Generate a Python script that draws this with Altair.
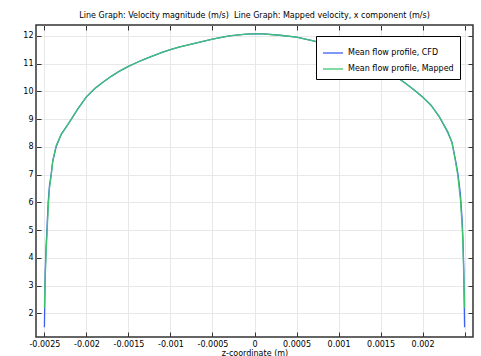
import altair as alt
import pandas as pd

# z-coordinate (m)
z = [-0.0025, -0.00249, -0.00248, -0.00247, -0.002455, -0.00244, -0.00242, -0.0024,
     -0.00236, -0.0023, -0.0022, -0.0021, -0.002, -0.0019, -0.0018, -0.0017, -0.0016,
     -0.0015, -0.0014, -0.0013, -0.0012, -0.0011, -0.001, -0.0009, -0.0007, -0.0005,
     -0.0003, -0.0001, 0.0, 0.0001, 0.0003, 0.0005, 0.0007, 0.0009, 0.001, 0.0011,
     0.0012, 0.0013, 0.0014, 0.0015, 0.0016, 0.0017, 0.0018, 0.0019, 0.002, 0.0021,
     0.0022, 0.0023, 0.00235, 0.00239, 0.00242, 0.00245, 0.00247, 0.00248, 0.00249, 0.0025]

# Mean flow profile, CFD (m/s)
cfd = [1.5, 3.5, 4.4, 5.0, 6.0, 6.6, 7.0, 7.5, 8.0, 8.45, 8.9, 9.38, 9.8, 10.1, 10.34,
       10.55, 10.74, 10.9, 11.04, 11.17, 11.29, 11.4, 11.5, 11.59, 11.74, 11.88, 12.0,
       12.06, 12.07, 12.07, 12.02, 11.95, 11.82, 11.66, 11.57, 11.46, 11.34, 11.21, 11.06,
       10.89, 10.7, 10.5, 10.28, 10.05, 9.8, 9.5, 9.08, 8.52, 8.16, 7.55, 7.05, 6.3,
       5.4, 4.7, 3.6, 1.5]

# Mean flow profile, Mapped (m/s)
mapped = [2.2, 3.3, 4.2, 4.8, 5.8, 6.5, 6.95, 7.5, 8.05, 8.45, 8.9, 9.38, 9.8, 10.1, 10.34,
          10.55, 10.74, 10.9, 11.04, 11.17, 11.29, 11.4, 11.5, 11.59, 11.74, 11.88, 12.0,
          12.06, 12.07, 12.07, 12.02, 11.95, 11.82, 11.66, 11.57, 11.46, 11.34, 11.21, 11.06,
          10.89, 10.7, 10.5, 10.28, 10.05, 9.8, 9.5, 9.08, 8.55, 8.16, 7.5, 6.95, 6.1,
          5.2, 4.5, 3.4, 2.2]

series_names = ["Mean flow profile, CFD", "Mean flow profile, Mapped"]
series_colors = ["#3f5ff0", "#3ec46e"]

x_ticks = [-0.0025, -0.002, -0.0015, -0.001, -0.0005, 0.0, 0.0005, 0.001, 0.0015, 0.002, 0.0025]
y_ticks = [2, 3, 4, 5, 6, 7, 8, 9, 10, 11, 12]

rows = []
for name, vals in zip(series_names, [cfd, mapped]):
    for i, (zz, vv) in enumerate(zip(z, vals)):
        rows.append({"z": zz, "v": vv, "series": name, "idx": i})
df = pd.DataFrame(rows)

W, H = 437, 312
FONT = "DejaVu Sans"
xscale = alt.Scale(domain=[-0.0026, 0.0026], nice=False, zero=False)
yscale = alt.Scale(domain=[1.15, 12.39], nice=False, zero=False)

main = alt.Chart(df).mark_line(strokeWidth=1.3).encode(
    x=alt.X("z:Q", scale=xscale,
            axis=alt.Axis(values=x_ticks, title="z-coordinate (m)", grid=True,
                          gridColor="#e8e8e8", ticks=False, domain=False,
                          labelPadding=3, titlePadding=1, labelFont=FONT, titleFont=FONT,
                          labelFontSize=8, titleFontSize=8, titleFontWeight="normal",
                          labelColor="#000", titleColor="#000",
                          labelExpr="datum.value > 0.0024 ? '' : replace(format(datum.value, '.4~f'), '\u2212', '-')")),
    y=alt.Y("v:Q", scale=yscale,
            axis=alt.Axis(values=y_ticks, title=None, grid=True, gridColor="#e8e8e8",
                          ticks=False, domain=False, labelPadding=3, labelFont=FONT,
                          labelFontSize=8, labelColor="#000")),
    color=alt.Color("series:N",
                    scale=alt.Scale(domain=series_names, range=series_colors),
                    legend=alt.Legend(title=None, orient="none", legendX=280, legendY=11,
                                      symbolType="stroke", symbolSize=400, symbolStrokeWidth=1.3,
                                      labelFont=FONT, labelFontSize=8, labelColor="#000",
                                      strokeColor="#000", fillColor="#fff", padding=6,
                                      rowPadding=1, labelOffset=4, labelLimit=300)),
    order=alt.Order("idx:Q"),
)

tick_kw = dict(labels=False, grid=False, domain=False, ticks=True, tickSize=5,
               tickColor="#333", title=None)

ticks1 = alt.Chart(df).mark_line(opacity=0).encode(
    x=alt.X("z:Q", scale=xscale, axis=alt.Axis(values=x_ticks, orient="top", offset=-H, **tick_kw)),
    y=alt.Y("v:Q", scale=yscale, axis=alt.Axis(values=y_ticks, orient="right", offset=-W, **tick_kw)),
    detail="series:N",
)
ticks2 = alt.Chart(df).mark_line(opacity=0).encode(
    x=alt.X("z:Q", scale=xscale, axis=alt.Axis(values=x_ticks, orient="bottom", offset=-H, **tick_kw)),
    y=alt.Y("v:Q", scale=yscale, axis=alt.Axis(values=y_ticks, orient="left", offset=-W, **tick_kw)),
    detail="series:N",
)

chart = alt.layer(main, ticks1, ticks2).resolve_axis(
    x="independent", y="independent"
).properties(
    width=W, height=H,
    title=alt.Title("Line Graph: Velocity magnitude (m/s)\u00a0 Line Graph: Mapped velocity, x component (m/s)",
                    font=FONT, fontSize=8, fontWeight="normal", color="#000",
                    anchor="middle", offset=5),
    autosize=alt.AutoSizeParams(type="none"),
    padding={"left": 36, "top": 25, "right": 8, "bottom": 19},
    background="#ffffff",
).configure_view(stroke="#333", strokeWidth=1.5)

chart.save("out.html", embed_options={"renderer": "svg", "actions": False})
